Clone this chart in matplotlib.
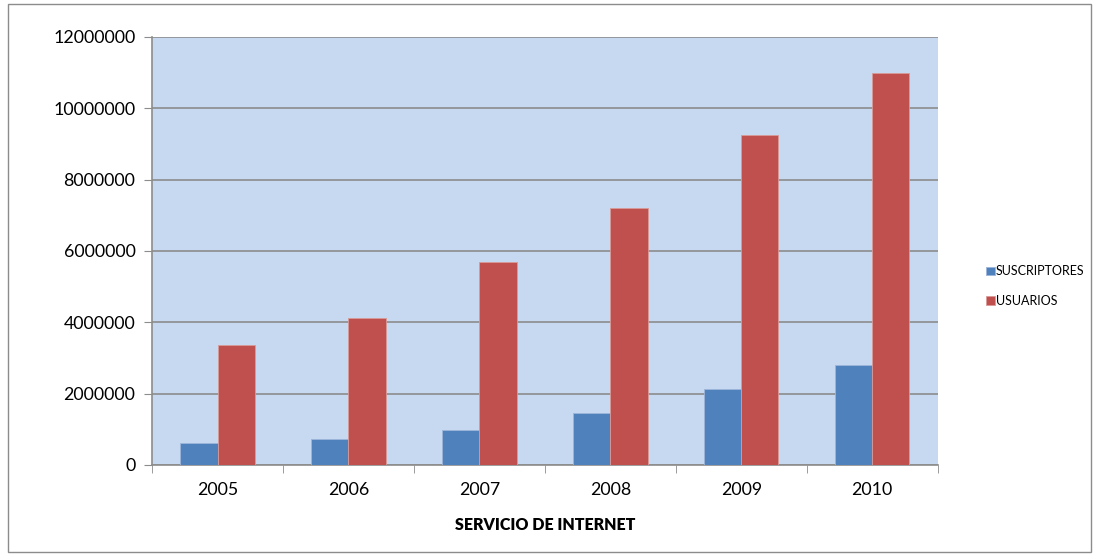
import matplotlib.pyplot as plt
import numpy as np
from matplotlib.patches import Rectangle

years = ['2005', '2006', '2007', '2008', '2009', '2010']
suscriptores = [610000, 740000, 990000, 1455000, 2130000, 2800000]
usuarios = [3350000, 4120000, 5700000, 7200000, 9250000, 10980000]

plt.rcParams['font.family'] = ['Lato', 'DejaVu Sans']

fig = plt.figure(figsize=(10.94, 5.56), dpi=100)
ax = fig.add_axes([0.139, 0.1637, 0.718, 0.7698])
ax.set_facecolor('#C6D9F0')

x = np.arange(len(years))
w = 0.285
b1 = ax.bar(x - w / 2, suscriptores, w, color='#4F81BD', edgecolor='#9DB5DA', linewidth=0.6, label='SUSCRIPTORES', zorder=3)
b2 = ax.bar(x + w / 2, usuarios, w, color='#C0504D', edgecolor='#D99A98', linewidth=0.6, label='USUARIOS', zorder=3)

ax.set_xlim(-0.5, len(years) - 0.5)
ax.set_ylim(0, 12000000)
ax.set_yticks(np.arange(0, 12000001, 2000000))
ax.set_yticklabels([str(v) for v in range(0, 12000001, 2000000)], fontsize=12.8)
ax.yaxis.grid(True, color='#8C8C8C', linewidth=1.2, zorder=1)
ax.set_xticks(x)
ax.set_xticklabels(years, fontsize=12.8)
ax.set_xticks(np.arange(-0.5, len(years)), minor=True)
ax.tick_params(axis='x', which='major', length=0, pad=12)
ax.tick_params(axis='x', which='minor', length=6, color='#8C8C8C')
ax.tick_params(axis='y', length=6, color='#8C8C8C', pad=6)
for s in ['top', 'right']:
    ax.spines[s].set_visible(False)
ax.spines['left'].set_color('#8C8C8C')
ax.spines['bottom'].set_color('#8C8C8C')
ax.spines['left'].set_linewidth(1.2)
ax.spines['bottom'].set_linewidth(1.2)

ax.set_xlabel('SERVICIO DE INTERNET', fontsize=11.5, fontweight='heavy', labelpad=14)

fig.legend(handles=[b1, b2], loc='upper left', bbox_to_anchor=(0.891, 0.543), frameon=False,
           fontsize=9, handlelength=0.7, handleheight=0.7, handletextpad=0.1, labelspacing=1.4)

fig.patches.append(Rectangle((0.007, 0.007), 0.99, 0.985, transform=fig.transFigure,
                             fill=False, edgecolor='#8C8C8C', linewidth=1))

fig.savefig('out.png', dpi=100)
